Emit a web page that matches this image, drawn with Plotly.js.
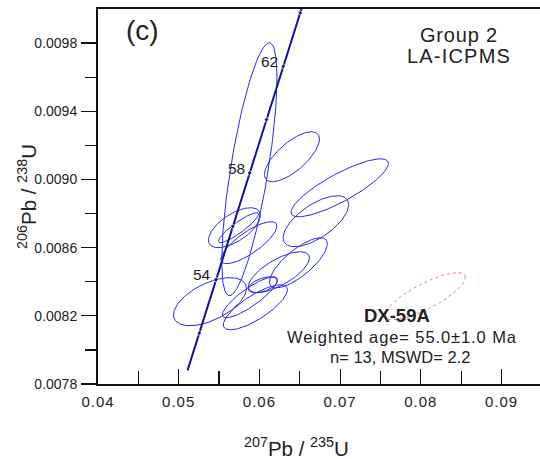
<!DOCTYPE html>
<html>
<head>
<meta charset="utf-8">
<script src="https://cdn.plot.ly/plotly-3.0.1.min.js"></script>
<style>
html,body{margin:0;padding:0;background:#fff;}
#chart{width:540px;height:459px;}
#chart .xtick text{letter-spacing:1px;}
</style>
</head>
<body>
<div id="chart"></div>
<script>
// Concordia curve (age in Ma, 207Pb/235U, 206Pb/238U)
const concordiaAge = [50.6, 52, 54, 56, 58, 60, 62, 64, 64.2];
const concordiaX   = [0.051096, 0.052546, 0.054622, 0.056701, 0.058784, 0.060872, 0.062963, 0.065059, 0.065269];
const concordiaY   = [0.0078802, 0.0080991, 0.0084119, 0.0087248, 0.0090378, 0.0093510, 0.0096642, 0.0099774, 0.0100088];
const concordiaMarked = [false, true, true, true, true, true, true, true, false];
const labelAges = [54, 58, 62];

// Accepted analyses (blue ellipses): centre, half-extent in x and y, correlation
const ellX   = [0.05876, 0.06403, 0.06995, 0.06700, 0.05690, 0.05740, 0.05870, 0.05387, 0.05882, 0.05950, 0.06043, 0.06242, 0.06483];
const ellY   = [0.009060, 0.009133, 0.008951, 0.008755, 0.008717, 0.008717, 0.008629, 0.008283, 0.008309, 0.008250, 0.008382, 0.008456, 0.008511];
const ellSX  = [0.00342, 0.003408, 0.006035, 0.004064, 0.00322, 0.00248, 0.00347, 0.00452, 0.00341, 0.00397, 0.00180, 0.00378, 0.00359];
const ellSY  = [0.000742, 0.0001466, 0.000170, 0.0001496, 0.000117, 0.000088, 0.000123, 0.000141, 0.000120, 0.000132, 0.000047, 0.000120, 0.000147];
const ellRho = [0.725, 0.71, 0.84, 0.65, 0.62, 0.90, 0.79, 0.55, 0.85, 0.78, 0.50, 0.70, 0.76];

// Rejected analysis (red dotted ellipse)
const rejX = [0.08057];
const rejY = [0.008315];
const rejSX = [0.00496];
const rejSY = [0.000138];
const rejRho = [0.80];

const sampleName = "DX-59A";
const statsLine1 = "Weighted age= 55.0\u00b11.0 Ma";
const statsLine2 = "n= 13, MSWD= 2.2";
const panelLabel = "(c)";
const groupLine1 = "Group 2";
const groupLine2 = "LA-ICPMS";

function ellipsePath(cx, cy, sx, sy, rho) {
  const xs = [], ys = [];
  const N = 120;
  const s = Math.sqrt(1 - rho * rho);
  for (let i = 0; i <= N; i++) {
    const t = 2 * Math.PI * i / N;
    xs.push(cx + sx * Math.cos(t));
    ys.push(cy + sy * (rho * Math.cos(t) + s * Math.sin(t)));
  }
  return {xs, ys};
}

const FONT = "Liberation Sans, Arial, Helvetica, sans-serif";
const TXT = "#222222";
const traces = [];

for (let i = 0; i < ellX.length; i++) {
  const e = ellipsePath(ellX[i], ellY[i], ellSX[i], ellSY[i], ellRho[i]);
  traces.push({x: e.xs, y: e.ys, type: 'scatter', mode: 'lines',
    line: {color: '#2a2ae6', width: 1}, hoverinfo: 'skip', showlegend: false});
}
for (let i = 0; i < rejX.length; i++) {
  const e = ellipsePath(rejX[i], rejY[i], rejSX[i], rejSY[i], rejRho[i]);
  traces.push({x: e.xs, y: e.ys, type: 'scatter', mode: 'lines',
    line: {color: '#ee5a55', width: 0.8, dash: 'dot'}, hoverinfo: 'skip', showlegend: false});
}
traces.push({x: concordiaX, y: concordiaY, type: 'scatter', mode: 'lines+markers',
  line: {color: '#14148f', width: 2},
  marker: {color: '#14148f', symbol: 'diamond', size: concordiaMarked.map(m => m ? 4 : 0)},
  hoverinfo: 'skip', showlegend: false});

const annotations = [];
labelAges.forEach(a => {
  const k = concordiaAge.indexOf(a);
  annotations.push({x: concordiaX[k], y: concordiaY[k], xref: 'x', yref: 'y',
    text: String(a), showarrow: false, xanchor: 'right', yanchor: 'middle',
    xshift: -3, yshift: 5, font: {family: FONT, size: 15.5, color: TXT}});
});
function sp(text, px) { return '<span style="letter-spacing:' + px + 'px">' + text + '</span>'; }
function pa(text, x, y, size, extra) {
  annotations.push(Object.assign({xref: 'paper', yref: 'paper', x: x, y: y, text: text,
    showarrow: false, xanchor: 'center', yanchor: 'middle',
    font: {family: FONT, size: size, color: TXT}}, extra || {}));
}
pa(panelLabel, 0.1018, 0.943, 28);
pa(sp(groupLine1, 0.8), 0.8167, 0.931, 20);
pa(sp(groupLine2, 1.2), 0.8167, 0.876, 20);
pa('<b>' + sampleName + '</b>', 0.6776, 0.184, 18.5);
pa(sp(statsLine1, 0.9), 0.6889, 0.1253, 16.5);
pa(statsLine2, 0.6833, 0.0707, 16.5);
pa('<sup>207</sup>Pb / <sup>235</sup>U', 0.449, -0.168, 20.5);
pa('<sup>206</sup>Pb / <sup>238</sup>U', -0.162, 0.5, 20.5, {textangle: -90});

const layout = {
  width: 540, height: 459,
  margin: {l: 98, r: 0, t: 9, b: 75, pad: 0},
  paper_bgcolor: '#fff', plot_bgcolor: '#fff',
  showlegend: false,
  xaxis: {
    range: [0.04, 0.09477], showgrid: false, zeroline: false,
    showline: true, linecolor: '#111', linewidth: 2, mirror: true,
    tickmode: 'array', tickvals: [0.04, 0.05, 0.06, 0.07, 0.08, 0.09],
    ticktext: ['0.04', '0.05', '0.06', '0.07', '0.08', '0.09'],
    ticks: 'inside', ticklen: 15, tickwidth: 1.2, tickcolor: '#111',
    minor: {tickvals: [0.045, 0.055, 0.065, 0.075, 0.085], ticks: 'inside', ticklen: 13, tickwidth: 1.2, tickcolor: '#111', showgrid: false},
    tickfont: {family: FONT, size: 15, color: TXT}, ticklabelstandoff: 3
  },
  yaxis: {
    range: [0.0078, 0.0100], showgrid: false, zeroline: false,
    showline: true, linecolor: '#111', linewidth: 2,
    tickmode: 'array', tickvals: [0.0078, 0.0082, 0.0086, 0.0090, 0.0094, 0.0098],
    ticktext: ['0.0078', '0.0082', '0.0086', '0.0090', '0.0094', '0.0098'],
    ticks: 'outside', ticklen: 15, tickwidth: 1.2, tickcolor: '#111',
    minor: {tickvals: [0.0080, 0.0084, 0.0088, 0.0092, 0.0096], ticks: 'outside', ticklen: 11, tickwidth: 1.2, tickcolor: '#111', showgrid: false},
    tickfont: {family: FONT, size: 14, color: TXT}, ticklabelstandoff: 1
  },
  annotations: annotations
};

Plotly.newPlot('chart', traces, layout, {displayModeBar: false, staticPlot: true});
</script>
</body>
</html>
